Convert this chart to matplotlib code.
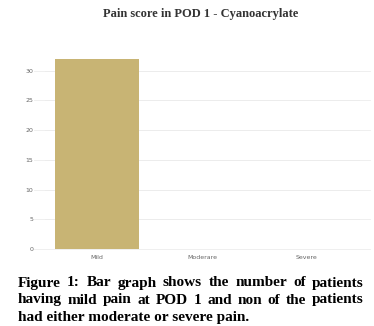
import matplotlib
matplotlib.use("Agg")
import matplotlib.pyplot as plt

# data
categories = ["Mild", "Moderare", "Severe"]
counts = [32, 0, 0]
yticks = [0, 5, 10, 15, 20, 25, 30]

title = "Pain score in POD 1 - Cyanoacrylate"
caption_lines = [
    "Figure 1: Bar graph shows the number of patients",
    "having mild pain at POD 1 and non of the patients",
    "had either moderate or severe pain.",
]

W, H = 374, 326
fig = plt.figure(figsize=(W / 100, H / 100), dpi=100)
ax = fig.add_axes([44.5 / W, 1 - 249 / H, 315 / W, (249 - 57) / H])

ax.bar(range(len(categories)), counts, width=0.8, color="#c8b474", zorder=2)
ax.set_xlim(-0.5, len(categories) - 0.5)
ax.set_ylim(0, 32.3)
ax.set_yticks(yticks)
ax.set_xticks(range(len(categories)))
ax.set_xticklabels(categories)
ax.tick_params(axis="both", length=0, labelsize=4.5, labelcolor="#666666")
ax.tick_params(axis="y", pad=8)
ax.tick_params(axis="x", pad=4)
for s in ax.spines.values():
    s.set_visible(False)
ax.grid(axis="y", color="#ececec", linewidth=0.6, zorder=0)
for t in yticks:
    ax.plot([-0.6, 2.6], [t, t], color="#ececec", lw=0.6, clip_on=False, zorder=0)

fig.text(201 / W, 1 - 14 / H, title, ha="center", va="center",
         fontsize=9.0, fontweight="bold", family="Liberation Serif", color="#333333")

# justified caption
fig.canvas.draw()
r = fig.canvas.get_renderer()
left, right = 18 / W, 364 / W
ys = [283, 300, 318]
cap_kw = dict(va="center", fontsize=11, fontweight="bold",
              family="Liberation Serif", color="black")
for i, line in enumerate(caption_lines):
    y = 1 - ys[i] / H
    words = line.split()
    if i == len(caption_lines) - 1:
        fig.text(left, y, line, ha="left", **cap_kw)
        continue
    objs = [fig.text(0, y, w, ha="left", **cap_kw) for w in words]
    widths = [o.get_window_extent(r).width / fig.bbox.width for o in objs]
    gap = (right - left - sum(widths)) / (len(words) - 1)
    x = left
    for o, wd in zip(objs, widths):
        o.set_x(x)
        x += wd + gap

fig.savefig("out.png", dpi=100)
